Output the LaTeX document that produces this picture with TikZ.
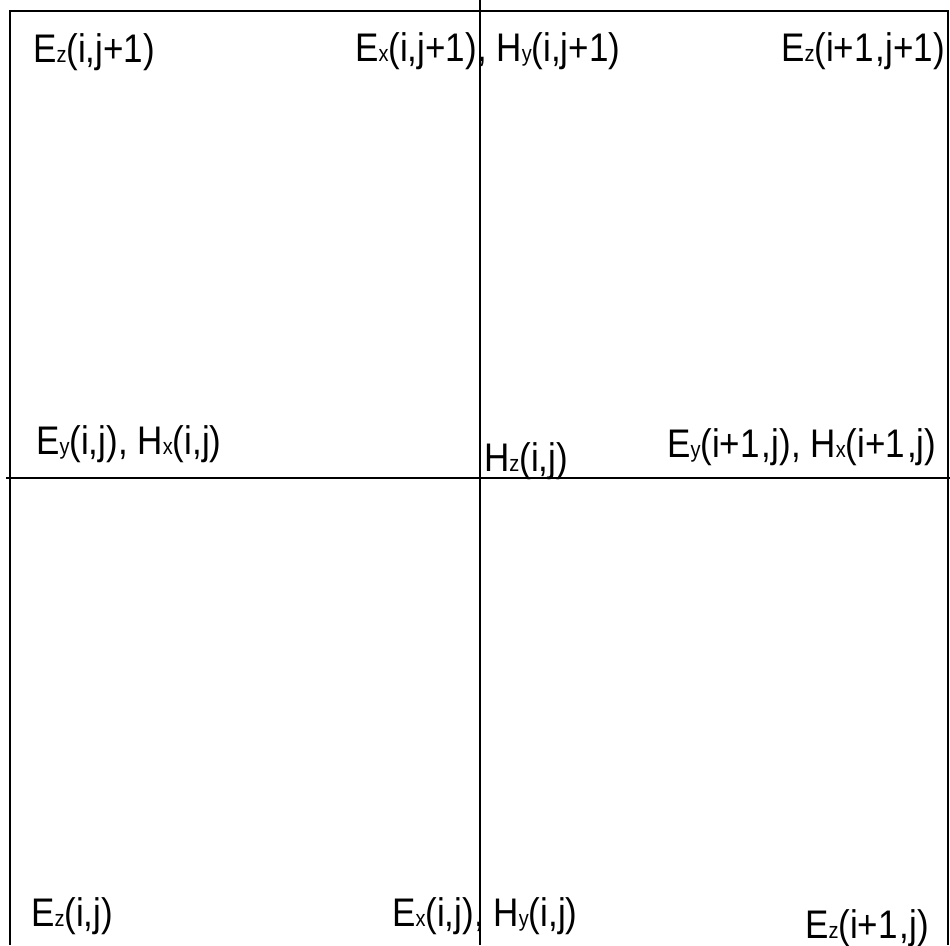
\documentclass[tikz,border=0pt]{standalone}
\usepackage{fontspec}
\setmainfont{Liberation Sans}
\usepackage{graphicx}
\usetikzlibrary{positioning}

% field component: letter with a small index on the baseline
\newcommand{\fcomp}[2]{#1{\fontsize{20}{20}\selectfont #2}}
\newcommand{\tallbox}[1]{\scalebox{1}[1.14]{#1}}

\tikzset{
  gridline/.style={line width=1.3pt},
  fieldlbl/.style={anchor=base west, inner sep=0pt, font=\fontsize{35}{35}\selectfont}
}

\begin{document}
\begin{tikzpicture}[x=1pt,y=-1pt]
  \useasboundingbox (0,0) rectangle (950,945);
  % cell frame
  \coordinate (tl) at (10,11);
  \coordinate (tr) at (948,11);
  \coordinate (bl) at (10,945);
  \coordinate (br) at (948,945);
  \coordinate (vtop) at (480,0);
  \coordinate (vbot) at (480,945);
  \coordinate (hleft) at (6,478);
  \coordinate (hright) at (950,478);
  \draw[gridline] (bl) -- (tl) -- (tr) -- (br);
  \draw[gridline] (vtop) -- (vbot);
  \draw[gridline] (hleft) -- (hright);
  % top row
  \node[fieldlbl] (ezTL) at (33,62) {\tallbox{\fcomp{E}{z}(i,j+1)}};
  \node[fieldlbl] (exTop) at (355,61) {\tallbox{\fcomp{E}{x}(i,j+1), \fcomp{H}{y}(i,j+1)}};
  \node[fieldlbl] (ezTR) at (781,61) {\tallbox{\fcomp{E}{z}(i+1\kern2pt,j+1)}};
  % middle row
  \node[fieldlbl] (eyL) at (36,454) {\tallbox{\fcomp{E}{y}(i,j), \fcomp{H}{x}(i,j)}};
  \node[fieldlbl] (hzC) at (484,471) {\tallbox{\fcomp{H}{z}(i,j)}};
  \node[fieldlbl] (eyR) at (667,457) {\tallbox{\fcomp{E}{y}(i+1\kern2pt,j), \fcomp{H}{x}(i+1\kern2pt,j)}};
  % bottom row
  \node[fieldlbl] (ezBL) at (31,926) {\tallbox{\fcomp{E}{z}(i,j)}};
  \node[fieldlbl] (exBot) at (392,926) {\tallbox{\fcomp{E}{x}(i,j), \fcomp{H}{y}(i,j)}};
  \node[fieldlbl] (ezBR) at (805,938) {\tallbox{\fcomp{E}{z}(i+1\kern2pt,j)}};
\end{tikzpicture}
\end{document}
